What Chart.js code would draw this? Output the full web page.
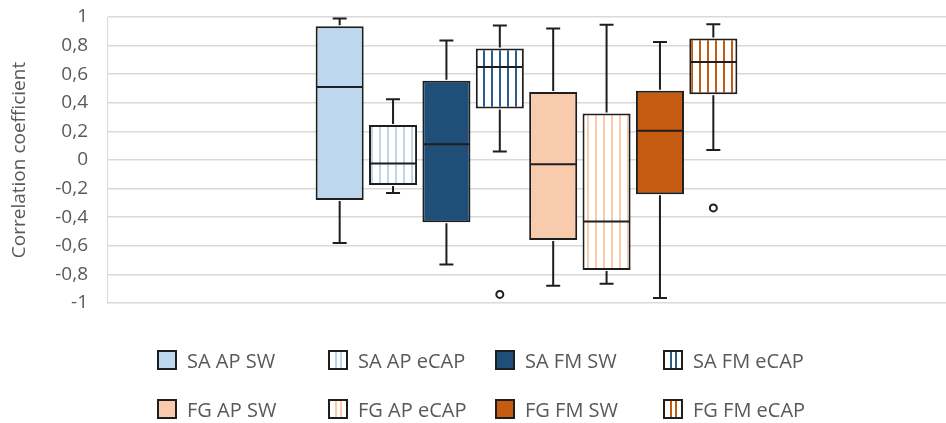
<!DOCTYPE html>
<html>
<head>
<meta charset="utf-8">
<script src="https://cdn.jsdelivr.net/npm/chart.js@4.4.1/dist/chart.umd.min.js"></script>
<style>
  html, body { margin: 0; padding: 0; background: #fff; }
  #wrap { position: relative; width: 946px; height: 423px; overflow: hidden; }
  #chart { position: absolute; left: 0; top: 0; }
  #legend { position: absolute; left: 0; top: 0; width: 946px; height: 423px; pointer-events: none;
            font-family: "Open Sans", sans-serif; font-size: 20px; color: #595959; }
  .item { position: absolute; display: flex; align-items: center; white-space: nowrap; }
  .swatch { width: 16px; height: 16px; border: 2px solid #1e1e1e; margin-right: 10px; box-sizing: content-box; }
</style>
</head>
<body>
<div id="wrap">
  <canvas id="chart" width="946" height="423"></canvas>
  <div id="legend"></div>
</div>
<script>
// Box-plot summaries of the correlation coefficient for each group
const seriesNames = ['SA AP SW', 'SA AP eCAP', 'SA FM SW', 'SA FM eCAP',
                     'FG AP SW', 'FG AP eCAP', 'FG FM SW', 'FG FM eCAP'];
const whiskerLow  = [-0.58, -0.23, -0.73, 0.06, -0.88, -0.865, -0.965, 0.07];
const quartile1   = [-0.28, -0.175, -0.435, 0.36, -0.56, -0.77, -0.24, 0.46];
const medians     = [0.51, -0.025, 0.11, 0.65, -0.03, -0.43, 0.205, 0.685];
const quartile3   = [0.935, 0.245, 0.555, 0.78, 0.475, 0.325, 0.485, 0.85];
const whiskerHigh = [0.99, 0.425, 0.835, 0.94, 0.92, 0.945, 0.825, 0.95];
const outliers    = [[], [], [], [-0.94], [], [], [], [-0.335]];

// Series styling: solid fill or vertical stripes
const baseColors = ['#BDD7EE', '#BDD7EE', '#1F4E79', '#2E5D8C',
                    '#F8CBAD', '#F8CBAD', '#C55A11', '#C55A11'];
const striped    = [false, true, false, true, false, true, false, true];

const LINE = '#1e1e1e';

function stripePattern(color) {
  const c = document.createElement('canvas');
  c.width = 8; c.height = 8;
  const g = c.getContext('2d');
  g.fillStyle = '#ffffff';
  g.fillRect(0, 0, 8, 8);
  g.fillStyle = color;
  g.fillRect(3, 0, 2, 8);
  return g.createPattern(c, 'repeat');
}

const ctx = document.getElementById('chart').getContext('2d');

const datasets = seriesNames.map((name, i) => ({
  label: name,
  data: [[quartile1[i], quartile3[i]]],
  backgroundColor: striped[i] ? stripePattern(baseColors[i]) : baseColors[i],
  borderColor: LINE,
  borderWidth: 2,
  borderSkipped: false,
  barPercentage: 0.9,
  categoryPercentage: 0.509
}));

// Whiskers, medians and outlier points drawn on top of the boxes
const boxExtras = {
  id: 'boxExtras',
  afterDatasetsDraw(chart) {
    const y = chart.scales.y;
    const c = chart.ctx;
    c.save();
    c.strokeStyle = LINE;
    c.lineWidth = 2;
    chart.data.datasets.forEach((ds, i) => {
      const bar = chart.getDatasetMeta(i).data[0];
      if (!bar) return;
      const x = bar.x, half = bar.width / 2, cap = 7;
      const yMed = y.getPixelForValue(medians[i]);
      const yQ1 = y.getPixelForValue(quartile1[i]);
      const yQ3 = y.getPixelForValue(quartile3[i]);
      const yLo = y.getPixelForValue(whiskerLow[i]);
      const yHi = y.getPixelForValue(whiskerHigh[i]);
      c.beginPath();
      // median
      c.moveTo(x - half + 1, yMed); c.lineTo(x + half - 1, yMed);
      // upper whisker
      c.moveTo(x, yQ3 - 1); c.lineTo(x, yHi);
      c.moveTo(x - cap, yHi); c.lineTo(x + cap, yHi);
      // lower whisker
      c.moveTo(x, yQ1 + 1); c.lineTo(x, yLo);
      c.moveTo(x - cap, yLo); c.lineTo(x + cap, yLo);
      c.stroke();
      outliers[i].forEach(v => {
        c.beginPath();
        c.arc(x, y.getPixelForValue(v), 3.5, 0, Math.PI * 2);
        c.fillStyle = '#ffffff';
        c.fill();
        c.stroke();
      });
    });
    c.restore();
  }
};

new Chart(ctx, {
  type: 'bar',
  data: { labels: [''], datasets },
  options: {
    responsive: false,
    animation: false,
    layout: { padding: { top: 17, right: 0, bottom: 120, left: 0 } },
    plugins: { legend: { display: false }, tooltip: { enabled: false } },
    scales: {
      x: { display: false },
      y: {
        min: -1, max: 1,
        afterFit(scale) {
          scale.width = 107;
          scale.paddingTop = 0;
          scale.paddingBottom = 0;
        },
        border: { display: true, color: '#d9d9d9', width: 1 },
        grid: { color: '#d9d9d9', lineWidth: 1.5, drawTicks: false },
        ticks: {
          stepSize: 0.2,
          padding: 19,
          color: '#595959',
          font: { family: 'Open Sans', size: 19 },
          callback: v => String(Math.round(v * 10) / 10).replace('.', ',')
        },
        title: {
          display: true,
          text: 'Correlation coefficient',
          color: '#595959',
          font: { family: 'Open Sans', size: 19 },
          padding: { top: 8, bottom: 0 }
        }
      }
    }
  },
  plugins: [boxExtras]
});

// Legend: two rows of four fixed columns
const legend = document.getElementById('legend');
const colX = [157, 328, 495, 663];
const rowY = [360, 409];
seriesNames.forEach((name, i) => {
  const item = document.createElement('div');
  item.className = 'item';
  const col = i % 4, row = Math.floor(i / 4);
  item.style.left = colX[col] + 'px';
  item.style.top = (rowY[row] - 14) + 'px';
  item.style.height = '28px';
  const sw = document.createElement('span');
  sw.className = 'swatch';
  if (striped[i]) {
    const c = baseColors[i];
    sw.style.background = `linear-gradient(to right, #fff 0 5px, ${c} 5px 7px, #fff 7px 10px, ${c} 10px 12px, #fff 12px)`;
  } else {
    sw.style.background = baseColors[i];
  }
  const tx = document.createElement('span');
  tx.textContent = name;
  item.appendChild(sw);
  item.appendChild(tx);
  legend.appendChild(item);
});
</script>
</body>
</html>
